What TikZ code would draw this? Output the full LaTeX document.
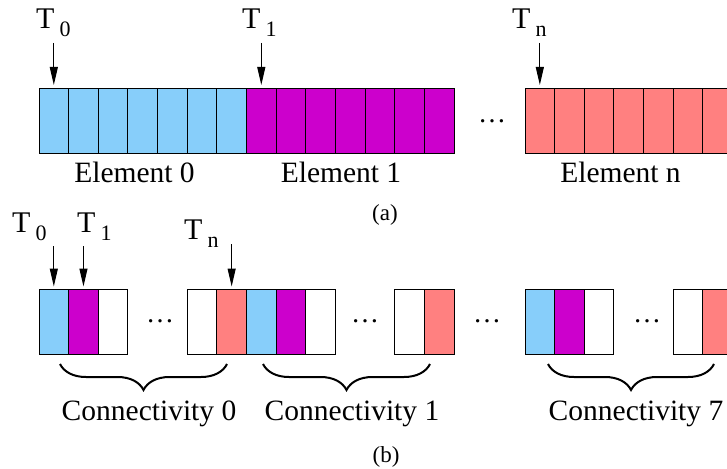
\documentclass[tikz,border=0pt]{standalone}
\usepackage{fontspec}
\setmainfont{Liberation Serif}
\usetikzlibrary{arrows.meta,decorations.pathreplacing}

\definecolor{cellblue}{RGB}{135,206,250}
\definecolor{cellmag}{RGB}{204,0,204}
\definecolor{cellpink}{RGB}{255,128,128}

% thread label: a large T followed by a lowered index
\newcommand{\threadlabel}[1]{T\hspace{5pt}\raisebox{-8pt}{\fontsize{22}{22}\selectfont #1}}

\begin{document}
\begin{tikzpicture}[x=1pt,y=-1pt,
  cell/.style={draw=black, line width=0.9pt, minimum width=29.64pt,
    minimum height=65pt, inner sep=0pt, outer sep=0pt},
  ptr/.style={line width=1.1pt, -{Triangle[length=18pt,width=8pt]}, shorten >=3pt},
  tlab/.style={font=\fontsize{30}{30}\selectfont, inner sep=0pt, anchor=base west},
  blocklabel/.style={font=\fontsize{29.5}{30}\selectfont, inner sep=0pt, anchor=base},
  figtag/.style={font=\fontsize{23}{23}\selectfont, inner sep=0pt, anchor=base},
  dotsnode/.style={font=\fontsize{28}{28}\selectfont, inner sep=0pt},
  brc/.style={decorate, decoration={brace, amplitude=26pt}, line width=2pt}]

\useasboundingbox (0,0) rectangle (727,468);

% ---------- (a) element-major layout ----------
\foreach \k in {0,...,6}
  \node[cell, fill=cellblue] (ea\k) at ({39+29.64*(\k+0.5)},120.5) {};
\foreach \k in {0,...,6}
  \node[cell, fill=cellmag] (eb\k) at ({39+29.64*(\k+7.5)},120.5) {};
\foreach \k in {0,...,6}
  \node[cell, fill=cellpink] (en\k) at ({525+29.64*(\k+0.5)},120.5) {};
\node[dotsnode] (gapa) at (492,121) {\ldots};

\node[tlab] (ta0) at (36,29) {\threadlabel{0}};
\node[tlab] (ta1) at (242,29) {\threadlabel{1}};
\node[tlab] (tan) at (512,29) {\threadlabel{n}};
\coordinate (pa0) at (ea0.north |- 0,43);
\coordinate (pa1) at (eb0.north |- 0,43);
\coordinate (pan) at (en0.north |- 0,43);
\draw[ptr] (pa0) -- (ea0.north);
\draw[ptr] (pa1) -- (eb0.north);
\draw[ptr] (pan) -- (en0.north);

\node[blocklabel] (la0) at (134.5,182) {Element 0};
\node[blocklabel] (la1) at (341,182) {Element 1};
\node[blocklabel] (lan) at (620.5,182) {Element n};
\node[figtag] (capa) at (385,220) {(a)};

% ---------- (b) connectivity-major layout ----------
\node[cell, fill=cellblue] (c0a) at ({39+29.64*0.5},322) {};
\node[cell, fill=cellmag]  (c0b) at ({39+29.64*1.5},322) {};
\node[cell, fill=white]    (c0c) at ({39+29.64*2.5},322) {};
\node[dotsnode] (gapb0) at (160,321) {\ldots};
\node[cell, fill=white]    (c0y) at ({39+29.64*5.5},322) {};
\node[cell, fill=cellpink] (c0z) at ({39+29.64*6.5},322) {};
\node[cell, fill=cellblue] (c1a) at ({39+29.64*7.5},322) {};
\node[cell, fill=cellmag]  (c1b) at ({39+29.64*8.5},322) {};
\node[cell, fill=white]    (c1c) at ({39+29.64*9.5},322) {};
\node[dotsnode] (gapb1) at (365,321) {\ldots};
\node[cell, fill=white]    (c1y) at ({39+29.64*12.5},322) {};
\node[cell, fill=cellpink] (c1z) at ({39+29.64*13.5},322) {};
\node[dotsnode] (gapb2) at (487,321) {\ldots};
\node[cell, fill=cellblue] (c7a) at ({525+29.64*0.5},322) {};
\node[cell, fill=cellmag]  (c7b) at ({525+29.64*1.5},322) {};
\node[cell, fill=white]    (c7c) at ({525+29.64*2.5},322) {};
\node[dotsnode] (gapb3) at (647,321) {\ldots};
\node[cell, fill=white]    (c7y) at ({525+29.64*5.5},322) {};
\node[cell, fill=cellpink] (c7z) at ({525+29.64*6.5},322) {};

\node[tlab] (tb0) at (12,232) {\threadlabel{0}};
\node[tlab] (tb1) at (77,232) {\threadlabel{1}};
\node[tlab] (tbn) at (184,239) {\threadlabel{n}};
\coordinate (pb0) at (c0a.north |- 0,246);
\coordinate (pb1) at (c0b.north |- 0,246);
\coordinate (pbn) at (c0z.north |- 0,244);
\draw[ptr] (pb0) -- (c0a.north);
\draw[ptr] (pb1) -- (c0b.north);
\draw[ptr] (pbn) -- (c0z.north);

% braces grouping each connectivity block
\coordinate (br0l) at (60,364);  \coordinate (br0r) at (227,364);
\coordinate (br1l) at (263,364); \coordinate (br1r) at (430,364);
\coordinate (br7l) at (548,364); \coordinate (br7r) at (714,364);
\draw[brc] (br0r) -- (br0l);
\draw[brc] (br1r) -- (br1l);
\draw[brc] (br7r) -- (br7l);

\node[blocklabel] (lb0) at (149,420) {Connectivity 0};
\node[blocklabel] (lb1) at (352,420) {Connectivity 1};
\node[blocklabel] (lb7) at (636,420) {Connectivity 7};
\node[figtag] (capb) at (386,462) {(b)};
\end{tikzpicture}
\end{document}
